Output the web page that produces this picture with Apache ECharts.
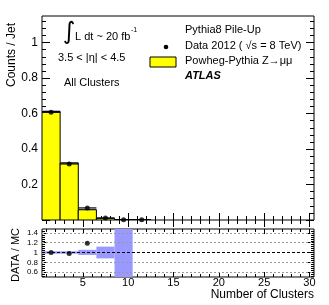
<!DOCTYPE html>
<html>
<head>
<meta charset="utf-8">
<script src="https://cdn.jsdelivr.net/npm/echarts@6/dist/echarts.min.js"></script>
<style>html,body{margin:0;padding:0;background:#fff;}#c{width:329px;height:305px;}</style>
</head>
<body>
<div id="c"></div>
<script>
// ---- data ----
const binLo = [0.5, 2.5, 4.5, 6.5, 8.5, 10.5];
const binHi = [2.5, 4.5, 6.5, 8.5, 10.5, 12.5];
const mcValues = [0.612, 0.322, 0.058, 0.010, 0.002, 0.001];
const mcErr = [0.006, 0.004, 0.003, 0.002, 0.001, 0.001];
const dataX = [1.5, 3.5, 5.5, 7.5, 9.5, 11.5];
const dataValues = [0.607, 0.316, 0.068, 0.011, 0.002, 0.001];
const ratioX = [1.5, 3.5, 5.5];
const ratioValues = [1.0, 0.978, 1.19];
const ratioBandLo = [0.975, 0.975, 0.95, 0.88, 0.4];
const ratioBandHi = [1.025, 1.025, 1.055, 1.12, 1.6];
// ---- ticks ----
const xMajorTicks = [5, 10, 15, 20, 25, 30];
const xLabels = [5, 10, 15, 20, 25, 30];
const xMinorTicks = [1,2,3,4,5,6,7,8,9,10,11,12,13,14,15,16,17,18,19,20,21,22,23,24,25,26,27,28,29,30];
const yMainLabels = [0.2, 0.4, 0.6, 0.8, 1];
const yMainMajorTicks = [0, 0.2, 0.4, 0.6, 0.8, 1.0];
const yMainMinorTicks = [0.04,0.08,0.12,0.16,0.24,0.28,0.32,0.36,0.44,0.48,0.52,0.56,0.64,0.68,0.72,0.76,0.84,0.88,0.92,0.96,1.04,1.08,1.12];
const yRatioLabels = [0.6, 0.8, 1, 1.2, 1.4];
const yRatioMajorTicks = [0.6, 0.8, 1.0, 1.2, 1.4];
const yRatioMinorTicks = [0.52,0.56,0.64,0.68,0.72,0.76,0.84,0.88,0.92,0.96,1.04,1.08,1.12,1.16,1.24,1.28,1.32,1.36,1.44];
const ratioGridDotted = [0.6, 0.8, 1.2, 1.4];
const ratioRef = [1.0];

const FONT = 'Liberation Sans';
const chart = echarts.init(document.getElementById('c'), null, {renderer: 'canvas'});

function xAx(grid, pos, ticks, len, labels) {
  return {
    type: 'value', gridIndex: grid, position: pos, min: 0.5, max: 30.5,
    axisLine: {show: false}, splitLine: {show: false},
    axisTick: {show: true, inside: true, length: len, customValues: ticks, lineStyle: {color: '#000', width: 1}},
    axisLabel: labels ? {show: true, customValues: labels, color: '#000', fontFamily: FONT, fontSize: 11, margin: 0} : {show: false}
  };
}
function yAx(grid, pos, min, max, ticks, len, labels, fs) {
  return {
    type: 'value', gridIndex: grid, position: pos, min: min, max: max,
    axisLine: {show: false}, splitLine: {show: false},
    axisTick: {show: true, inside: true, length: len, customValues: ticks, lineStyle: {color: '#000', width: 1}},
    axisLabel: labels ? {show: true, customValues: labels, color: '#000', fontFamily: FONT, fontSize: fs, margin: 4,
      formatter: v => String(+v.toFixed(2))} : {show: false}
  };
}

const mcData = binLo.map((lo, i) => [lo, binHi[i], mcValues[i], mcErr[i]]);
const dataErr = dataX.map((x, i) => [binLo[i], binHi[i], dataValues[i]]);
const bandData = ratioBandLo.map((lo, i) => [binLo[i], binHi[i], lo, ratioBandHi[i]]);

const option = {
  animation: false,
  grid: [
    {left: 42, top: 16, width: 272, height: 204, show: true, borderColor: '#000', borderWidth: 1, backgroundColor: 'transparent'},
    {left: 42, top: 229, width: 272, height: 48, show: true, borderColor: '#000', borderWidth: 1, backgroundColor: 'transparent'}
  ],
  xAxis: [
    xAx(0, 'bottom', xMajorTicks, 7, null),
    xAx(0, 'bottom', xMinorTicks, 4, null),
    xAx(0, 'top', xMajorTicks, 7, null),
    xAx(0, 'top', xMinorTicks, 4, null),
    xAx(1, 'bottom', xMajorTicks, 5, xLabels),
    xAx(1, 'bottom', xMinorTicks, 3, null),
    xAx(1, 'top', xMajorTicks, 5, null),
    xAx(1, 'top', xMinorTicks, 3, null)
  ],
  yAxis: [
    yAx(0, 'left', 0, 1.15, yMainMajorTicks, 8, yMainLabels, 12),
    yAx(0, 'left', 0, 1.15, yMainMinorTicks, 4, null),
    yAx(0, 'right', 0, 1.15, yMainMajorTicks, 8, null),
    yAx(0, 'right', 0, 1.15, yMainMinorTicks, 4, null),
    yAx(1, 'left', 0.5, 1.48, yRatioMajorTicks, 6, yRatioLabels, 8),
    yAx(1, 'left', 0.5, 1.48, yRatioMinorTicks, 3, null),
    yAx(1, 'right', 0.5, 1.48, yRatioMajorTicks, 6, null),
    yAx(1, 'right', 0.5, 1.48, yRatioMinorTicks, 3, null)
  ],
  series: [
    {
      type: 'custom', name: 'Powheg-Pythia', xAxisIndex: 0, yAxisIndex: 0, clip: true,
      data: mcData,
      renderItem: function (params, api) {
        const lo = api.value(0), hi = api.value(1), v = api.value(2), e = api.value(3);
        const p0 = api.coord([lo, 0]), p1 = api.coord([hi, v]);
        const b0 = api.coord([lo, v - e]), b1 = api.coord([hi, v + e]);
        return {type: 'group', children: [
          {type: 'rect', shape: {x: p0[0], y: p1[1], width: p1[0] - p0[0], height: p0[1] - p1[1]}, style: {fill: '#ffff00'}},
          {type: 'rect', shape: {x: b0[0], y: b1[1], width: b1[0] - b0[0], height: Math.max(b0[1] - b1[1], 1)}, style: {fill: '#9999ff'}},
          {type: 'rect', shape: {x: p0[0], y: p1[1], width: p1[0] - p0[0], height: p0[1] - p1[1]}, style: {fill: 'none', stroke: '#000', lineWidth: 1}}
        ]};
      }
    },
    {
      type: 'custom', name: 'DataErr', xAxisIndex: 0, yAxisIndex: 0, clip: true,
      data: dataErr,
      renderItem: function (params, api) {
        const a = api.coord([api.value(0), api.value(2)]), b = api.coord([api.value(1), api.value(2)]);
        return {type: 'line', shape: {x1: a[0], y1: a[1], x2: b[0], y2: b[1]}, style: {stroke: '#000', lineWidth: 1.2}};
      }
    },
    {
      type: 'scatter', name: 'Data 2012', xAxisIndex: 0, yAxisIndex: 0,
      symbol: 'circle', symbolSize: 5, itemStyle: {color: '#000'},
      data: dataX.map((x, i) => [x, dataValues[i]])
    },
    {
      type: 'custom', name: 'RatioBand', xAxisIndex: 4, yAxisIndex: 4, clip: true,
      data: bandData,
      renderItem: function (params, api) {
        const a = api.coord([api.value(0), api.value(2)]), b = api.coord([api.value(1), api.value(3)]);
        return {type: 'rect', shape: {x: a[0], y: b[1], width: b[0] - a[0], height: a[1] - b[1]}, style: {fill: '#9999ff'}};
      }
    },
    {
      type: 'scatter', name: 'Ratio', xAxisIndex: 4, yAxisIndex: 4,
      symbol: 'circle', symbolSize: 5, itemStyle: {color: '#000'}, z: 5,
      data: ratioX.map((x, i) => [x, ratioValues[i]]),
      markLine: {
        silent: true, symbol: 'none', label: {show: false}, animation: false,
        data: ratioGridDotted.map(v => ({yAxis: v, lineStyle: {color: '#999', type: [2, 2], width: 1}}))
          .concat(ratioRef.map(v => ({yAxis: v, lineStyle: {color: '#000', type: [3, 2], width: 1}})))
      }
    }
  ],
  graphic: [
    {type: 'text', left: 63, top: 21, style: {text: '\u222B', fontFamily: 'DejaVu Sans', fontSize: 24, fill: '#000'}},
    {type: 'text', left: 75, top: 31, style: {text: 'L dt ~ 20 fb', fontFamily: FONT, fontSize: 11, fill: '#000'}},
    {type: 'text', left: 131, top: 27, style: {text: '-1', fontFamily: FONT, fontSize: 7, fill: '#000'}},
    {type: 'text', left: 58, top: 52, style: {text: '3.5 < |\u03B7| < 4.5', fontFamily: FONT, fontSize: 11, fill: '#000'}},
    {type: 'text', left: 64, top: 77, style: {text: 'All Clusters', fontFamily: FONT, fontSize: 11, fill: '#000'}},
    {type: 'text', left: 185, top: 24, style: {text: 'Pythia8 Pile-Up', fontFamily: FONT, fontSize: 11, fill: '#000'}},
    {type: 'circle', shape: {cx: 166, cy: 47, r: 2.3}, style: {fill: '#000'}},
    {type: 'text', left: 185, top: 40, style: {text: 'Data 2012 ( \u221As = 8 TeV)', fontFamily: FONT, fontSize: 11, fill: '#000'}},
    {type: 'rect', shape: {x: 150, y: 57, width: 26, height: 10}, style: {fill: '#ffff00', stroke: '#000', lineWidth: 1}},
    {type: 'text', left: 185, top: 55, style: {text: 'Powheg-Pythia Z\u2192\u03BC\u03BC', fontFamily: FONT, fontSize: 11, fill: '#000'}},
    {type: 'text', left: 185, top: 70, style: {text: 'ATLAS', fontFamily: FONT, fontSize: 11, fontWeight: 'bold', fontStyle: 'italic', fill: '#000'}},
    {type: 'text', x: 12, y: 55, rotation: Math.PI / 2, style: {text: 'Counts / Jet', fontFamily: FONT, fontSize: 12, fill: '#000', align: 'center', verticalAlign: 'middle'}},
    {type: 'text', x: 16, y: 255, rotation: Math.PI / 2, style: {text: 'DATA / MC', fontFamily: FONT, fontSize: 11, fill: '#000', align: 'center', verticalAlign: 'middle'}},
    {type: 'text', right: 15, top: 289, style: {text: 'Number of Clusters', fontFamily: FONT, fontSize: 12, fill: '#000'}}
  ]
};
chart.setOption(option);
</script>
</body>
</html>
